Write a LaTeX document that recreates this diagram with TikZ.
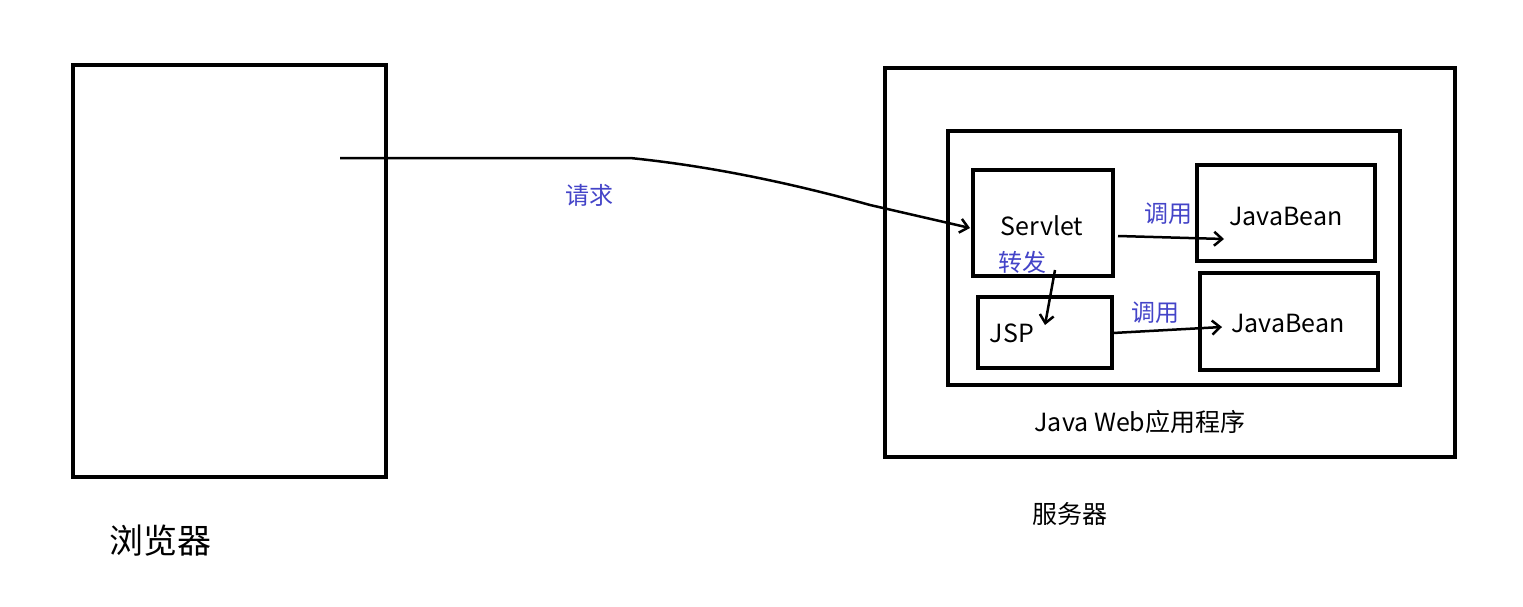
\documentclass[tikz,border=0pt]{standalone}
\usepackage{fontspec}
\setmainfont{Noto Sans CJK SC}
\usetikzlibrary{arrows.meta}
\definecolor{lb}{RGB}{68,68,200}
\begin{document}
\begin{tikzpicture}[x=1pt,y=-1pt,
  box/.style={draw,line width=4pt},
  lbl/.style={text=lb,font=\fontsize{24}{26}\selectfont},
  txt/.style={font=\fontsize{25}{27}\selectfont},
  arr/.style={line width=2.5pt,-{Straight Barb[length=8pt,width=14pt]}}]
\useasboundingbox (0,0) rectangle (1523,607);
\draw[box] (73,65) rectangle (386,477);
\draw[box] (885,68) rectangle (1455,457);
\draw[box] (948,131) rectangle (1400,385);
\node[box,minimum width=140pt,minimum height=106pt,txt] (sv) at (1043,223) {};
\node[txt] at (1042,226) {Servlet};
\node[box,minimum width=178pt,minimum height=96pt] (jb1) at (1286,213) {};
\node[txt] at (1286,216) {JavaBean};
\node[box,minimum width=134pt,minimum height=71pt] (jsp) at (1045,332) {};
\node[txt] at (1012,333) {JSP};
\node[box,minimum width=178pt,minimum height=97pt] (jb2) at (1289,321) {};
\node[txt] at (1288,323) {JavaBean};
\coordinate (s) at (340,158);
\coordinate (t) at (970,228);
\draw[arr] (s) -- (630,158) .. controls (700,165) and (780,180) .. (870,205) -- (t);
\draw[arr] (1118,236) -- (1224,239);
\draw[arr] (1055,270) -- (1045,325);
\draw[arr] (1113,333) -- (1222,327);
\node[lbl] at (589,195) {请求};
\node[lbl] at (1168,214) {调用};
\node[lbl] at (1022,262) {转发};
\node[lbl] at (1155,313) {调用};
\node[font=\fontsize{34}{36}\selectfont] at (160,541) {浏览器};
\node[txt] at (1070,514) {服务器};
\node[txt] at (1140,422) {Java Web应用程序};
\end{tikzpicture}
\end{document}
